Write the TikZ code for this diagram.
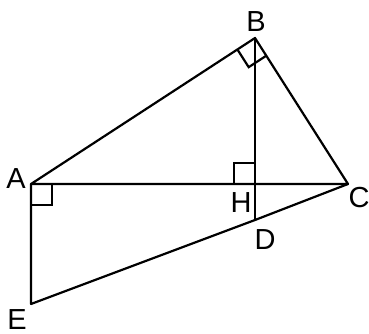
\documentclass[tikz,border=0pt]{standalone}
\usepackage{fontspec}
\setmainfont{Liberation Sans}
\usetikzlibrary{calc}
\tikzset{
  seg/.style={line width=2.2pt, line cap=round, line join=round},
  ramark/.style={line width=2.2pt, line join=miter},
  lbl/.style={inner sep=0pt, font=\fontsize{29}{29}\selectfont},
}
\begin{document}
\begin{tikzpicture}[x=1pt,y=-1pt]
\useasboundingbox (0,0) rectangle (369,334);
\coordinate (A) at (31,184);
\coordinate (B) at (255,38);
\coordinate (C) at (348,184);
\coordinate (H) at (255,184);
\coordinate (D) at (255,220);
\coordinate (E) at (31,304);
% sides
\draw[seg] (A) -- (B) -- (C) -- (A);
\draw[seg] (B) -- (H) -- (D);
\draw[seg] (C) -- (D) -- (E) -- (A);
% right angle marks
\draw[ramark] (31,205) -- (52,205) -- (52,184);
\draw[ramark] (234,184) -- (234,163) -- (255,163);
\coordinate (bA) at ($(B)!21pt!(A)$);
\coordinate (bC) at ($(B)!21pt!(C)$);
\draw[ramark] (bA) -- ($(bA)+(bC)-(B)$) -- (bC);
% labels
\node[lbl] (lA) at (16,179) {A};
\node[lbl] (lB) at (256,22) {B};
\node[lbl] (lC) at (359,198) {C};
\node[lbl] (lH) at (241,203) {H};
\node[lbl] (lD) at (265,240) {D};
\node[lbl] (lE) at (17,319.5) {E};
\end{tikzpicture}
\end{document}
